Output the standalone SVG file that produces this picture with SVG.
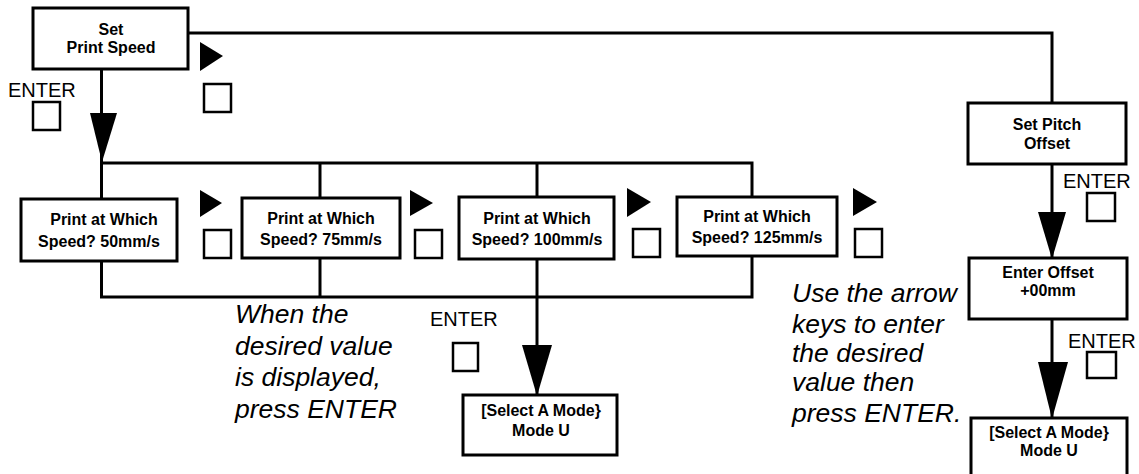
<svg xmlns="http://www.w3.org/2000/svg" width="1139" height="474" viewBox="0 0 1139 474">
<style>
.box{fill:#fff;stroke:#000;stroke-width:3}
.bt{font-family:"Liberation Sans",Arial,sans-serif;font-weight:bold;font-size:16px;text-anchor:middle;fill:#000}
.ln{fill:none;stroke:#000;stroke-width:3}
.key{fill:#fff;stroke:#000;stroke-width:2.5}
.ent{font-family:"Liberation Sans",Arial,sans-serif;font-size:20px;fill:#000}
.it{font-family:"Liberation Sans",Arial,sans-serif;font-style:italic;font-size:26.5px;fill:#000}
.tri{fill:#000}
</style>
<g id="connectors">
<path class="ln" d="M188 33 H1052 V103"/>
<path class="ln" d="M101.5 69 V199"/>
<path class="ln" d="M101.5 163 H752 V198"/>
<path class="ln" d="M320 163 V198"/>
<path class="ln" d="M537 163 V197"/>
<path class="ln" d="M101.5 261 V297 H752 V256"/>
<path class="ln" d="M320 258 V297"/>
<path class="ln" d="M537 259 V395"/>
<path class="ln" d="M1052 164 V258"/>
<path class="ln" d="M1052 319 V418"/>
<polygon class="tri" points="90,113 117,113 102,162"/>
<polygon class="tri" points="522,345 552,345 537,396"/>
<polygon class="tri" points="1038,212 1066,212 1052,259"/>
<polygon class="tri" points="1038,362 1068,362 1052,419"/>
</g>
<g id="keys">
<polygon class="tri" points="200,42 223,56 200,71"/>
<rect class="key" x="204" y="84" width="27" height="28"/>
<text class="ent" x="8" y="97">ENTER</text>
<rect class="key" x="33" y="102" width="27" height="28"/>
<polygon class="tri" points="200,190 222,203 200,217"/>
<rect class="key" x="204" y="230" width="27" height="28"/>
<polygon class="tri" points="410,190 433,203 410,216"/>
<rect class="key" x="415" y="230" width="27" height="28"/>
<polygon class="tri" points="627,188 651,202 627,217"/>
<rect class="key" x="633" y="229" width="27" height="28"/>
<polygon class="tri" points="853,188 877,202 853,216"/>
<rect class="key" x="855" y="229" width="27" height="28"/>
<text class="ent" x="430" y="326">ENTER</text>
<rect class="key" x="453" y="343" width="25" height="28"/>
<text class="ent" x="1063" y="188">ENTER</text>
<rect class="key" x="1087" y="193" width="28" height="28"/>
<text class="ent" x="1068" y="348">ENTER</text>
<rect class="key" x="1087" y="352" width="29" height="26"/>
</g>
<g id="n-set-print-speed">
<rect class="box" x="33" y="8" width="155" height="61"/>
<text class="bt" x="111" y="35">Set</text>
<text class="bt" x="111" y="53">Print Speed</text>
</g>
<g id="n-50">
<rect class="box" x="21" y="199" width="156" height="62"/>
<text class="bt" x="104" y="225">Print at Which</text>
<text class="bt" x="99" y="247">Speed? 50mm/s</text>
</g>
<g id="n-75">
<rect class="box" x="242" y="198" width="158" height="60"/>
<text class="bt" x="321" y="224">Print at Which</text>
<text class="bt" x="321" y="245">Speed? 75mm/s</text>
</g>
<g id="n-100">
<rect class="box" x="459" y="197" width="155" height="62"/>
<text class="bt" x="537" y="224">Print at Which</text>
<text class="bt" x="537" y="245">Speed? 100mm/s</text>
</g>
<g id="n-125">
<rect class="box" x="677" y="197" width="160" height="59"/>
<text class="bt" x="757" y="222">Print at Which</text>
<text class="bt" x="757" y="243">Speed? 125mm/s</text>
</g>
<g id="n-select-left">
<rect class="box" x="463" y="395" width="154" height="60"/>
<text class="bt" x="541" y="416">[Select A Mode}</text>
<text class="bt" x="541" y="436">Mode U</text>
</g>
<g id="n-set-pitch">
<rect class="box" x="968" y="103" width="158" height="61"/>
<text class="bt" x="1047" y="130">Set Pitch</text>
<text class="bt" x="1047" y="149">Offset</text>
</g>
<g id="n-enter-offset">
<rect class="box" x="969" y="258" width="158" height="61"/>
<text class="bt" x="1048" y="278">Enter Offset</text>
<text class="bt" x="1048" y="296">+00mm</text>
</g>
<g id="n-select-right">
<rect class="box" x="971" y="418" width="156" height="60"/>
<text class="bt" x="1049" y="438">[Select A Mode}</text>
<text class="bt" x="1049" y="456">Mode U</text>
</g>
<g id="notes">
<text class="it" x="235" y="323">When the</text>
<text class="it" x="235" y="355">desired value</text>
<text class="it" x="235" y="386">is displayed,</text>
<text class="it" x="235" y="418">press ENTER</text>
<text class="it" x="792" y="302">Use the arrow</text>
<text class="it" x="792" y="333">keys to enter</text>
<text class="it" x="792" y="362">the desired</text>
<text class="it" x="792" y="391">value then</text>
<text class="it" x="792" y="422">press ENTER.</text>
</g>
</svg>
